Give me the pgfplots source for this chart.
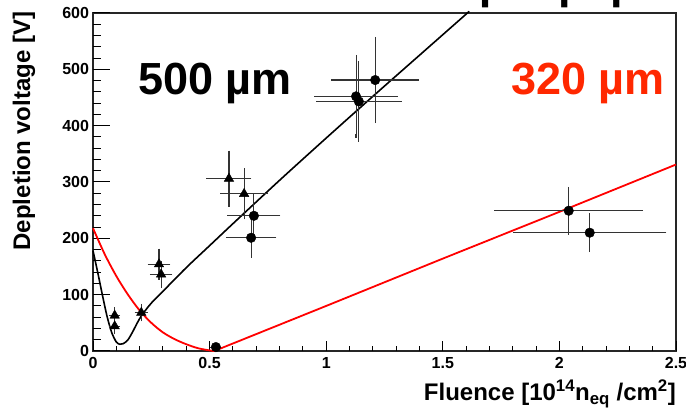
\documentclass[border=0pt]{standalone}
\usepackage{pgfplots}
\pgfplotsset{compat=1.18}
\usepackage{fontspec}
\setmainfont{Liberation Sans}
\definecolor{fitred}{RGB}{255,0,0}
\definecolor{labelred}{RGB}{255,40,0}

% Measured depletion voltages (fluence in 1e14 neq/cm^2, voltage in V)
\pgfplotstableread{
x      y    ex     ey
0.093  63   0.015  11
0.093  44   0.015  10
0.207  68   0.020  12
0.283  154  0.040  24
0.292  136  0.040  20
0.583  306  0.088  46
0.648  279  0.094  42
}\triangledata

\pgfplotstableread{
x      y    ex     ey
0.527  7    0.015  4
0.690  240  0.105  36
0.678  201  0.100  32
1.128  452  0.170  70
1.140  443  0.175  68
1.210  481  0.180  73
2.040  249  0.310  39
2.130  210  0.320  31
}\circledata

\begin{document}
\begin{tikzpicture}
\begin{axis}[
  at={(93pt,61pt)}, anchor=south west,
  scale only axis, width=583pt, height=338pt,
  axis lines=box,
  axis line style={draw=black!85, line width=1.2pt},
  xmin=0, xmax=2.5, ymin=0, ymax=600,
  xtick={0,0.5,1,1.5,2,2.5},
  xticklabels={0,0.5,1,1.5,2,2.5},
  ytick={0,100,200,300,400,500,600},
  tick style={draw=none},
  /pgf/number format/assume math mode=true,
  ticklabel style={font=\fontsize{16}{18}\selectfont\bfseries},
  xticklabel style={yshift=-3pt},
  yticklabel style={xshift=-0.5pt},
  clip=false,
]
% frame and ROOT-style inward ticks
\draw[black!85, line width=1.2pt] (rel axis cs:0,0) rectangle (rel axis cs:1,1);
\pgfplotsinvokeforeach{0,0.5,1,1.5,2,2.5}{
  \draw[black, line width=1pt] (axis cs:#1,0) -- ++(0pt,10pt);}
\pgfplotsinvokeforeach{0.1,0.2,0.3,0.4,0.6,0.7,0.8,0.9,1.1,1.2,1.3,1.4,1.6,1.7,1.8,1.9,2.1,2.2,2.3,2.4}{
  \draw[black, line width=1pt] (axis cs:#1,0) -- ++(0pt,5pt);}
\pgfplotsinvokeforeach{0,100,200,300,400,500,600}{
  \draw[black, line width=1pt] (axis cs:0,#1) -- ++(17pt,0pt);}
\pgfplotsinvokeforeach{20,40,60,80,120,140,160,180,220,240,260,280,320,340,360,380,420,440,460,480,520,540,560,580}{
  \draw[black, line width=1pt] (axis cs:0,#1) -- ++(8pt,0pt);}
% fitted curves
\addplot[black, line width=1.6pt, smooth, tension=0.5, restrict y to domain=0:600] coordinates {
  (0,178) (0.02,140) (0.04,100) (0.06,62) (0.08,33) (0.1,16) (0.115,12)
  (0.13,13) (0.15,20) (0.17,34) (0.19,50) (0.21,64) (0.25,85) (0.3,106)
  (0.4,148) (0.5,187) (0.6,226) (0.8,303) (1.0,378) (1.2,452) (1.4,525)
  (1.6,598) (1.605,600)
};
\addplot[fitred, line width=1.8pt, smooth, tension=0.5] coordinates {
  (0,218) (0.05,172) (0.1,133) (0.15,100) (0.2,72) (0.25,50) (0.3,33)
  (0.35,21) (0.4,12) (0.45,5) (0.5,1) (0.52,0)
};
\addplot[fitred, line width=1.8pt] coordinates {
  (0.52,0) (1.0,80) (1.5,164) (2.0,247) (2.5,331)
};
% data with error bars
\addplot[black, only marks, mark=triangle*, mark size=5.5pt,
  error bars/.cd, x dir=both, x explicit, y dir=both, y explicit,
  error bar style={line width=1.1pt, black!80},
  error mark options={line width=1.1pt, mark size=2pt, black!80}]
  table[x=x, y=y, x error=ex, y error=ey] {\triangledata};
\addplot[black, only marks, mark=*, mark size=4.8pt,
  error bars/.cd, x dir=both, x explicit, y dir=both, y explicit,
  error bar style={line width=1.1pt, black!80},
  error mark options={line width=1.1pt, mark size=2pt, black!80}]
  table[x=x, y=y, x error=ex, y error=ey] {\circledata};
\end{axis}
% thickness labels
\node[anchor=base west, inner sep=0pt, font=\fontsize{45}{50}\selectfont\bfseries]
  at (138pt,317pt) {500 µm};
\node[anchor=base west, inner sep=0pt, text=labelred, font=\fontsize{45}{50}\selectfont\bfseries]
  at (511pt,317pt) {320 µm};
% axis titles
\node[anchor=base, rotate=90, inner sep=0pt, font=\fontsize{24}{26}\selectfont\bfseries]
  at (30pt,281pt) {Depletion voltage [V]};
\node[anchor=base east, inner sep=0pt, font=\fontsize{24}{26}\selectfont\bfseries]
  at (676pt,11pt) {Fluence [10\textsuperscript{14}n\textsubscript{eq} /cm\textsuperscript{2}]};
% heading above the frame
\node[anchor=base west, inner sep=0pt, font=\fontsize{45}{50}\selectfont\bfseries]
  at (392pt,413pt) {300 µm paper};
% page area
\pgfresetboundingbox
\useasboundingbox (0pt,0pt) rectangle (686pt,412pt);
\end{tikzpicture}
\end{document}
